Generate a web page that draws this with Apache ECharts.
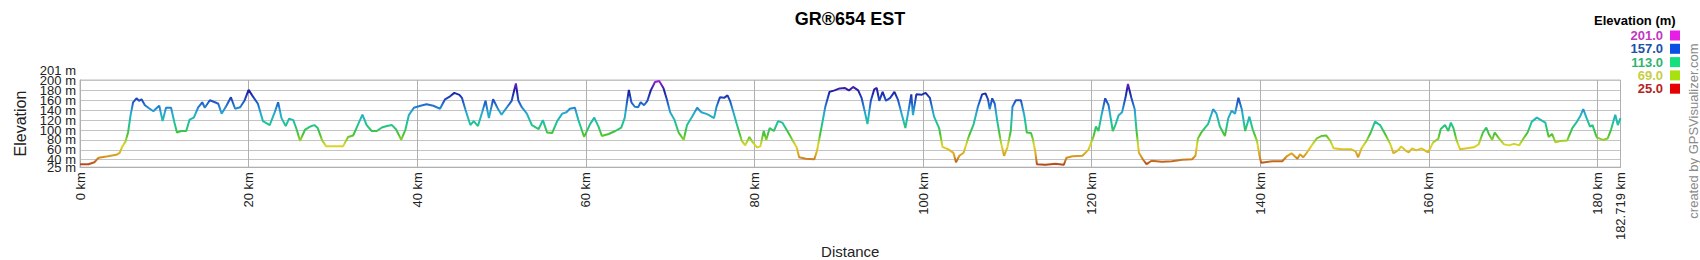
<!DOCTYPE html>
<html>
<head>
<meta charset="utf-8">
<script src="https://cdn.jsdelivr.net/npm/echarts@6/dist/echarts.min.js"></script>
<style>
html,body{margin:0;padding:0;background:#fff;}
#chart{width:1700px;height:260px;}
</style>
</head>
<body>
<div id="chart"></div>
<script>
// ---- data ----
const titleText = 'GR®654 EST';
const distKm = [
0,1.0,1.7,2.2,3.3,4.3,4.7,5.0,5.4,5.7,6.0,6.3,6.7,7.0,7.3,7.7,8.1,8.7,9.0,9.4,9.8,10.2,10.8,11.2,11.5,12.0,12.6,13.0,13.5,14.0,14.5,14.8,15.4,16.0,16.4,16.8,17.4,17.9,18.4,19.0,19.5,20.0,20.5,21.1,21.7,22.5,23.1,23.5,23.9,24.4,24.8,25.3,25.7,26.1,26.7,27.3,27.8,28.2,28.7,29.2,30.2,
31.2,31.8,32.4,33.0,33.5,34.0,34.6,35.2,35.8,36.4,37.0,37.5,38.1,38.6,39.0,39.6,40.4,41.1,41.9,42.7,43.3,43.9,44.4,45.0,45.3,45.7,46.3,46.7,47.2,47.7,48.1,48.5,49.0,49.6,50.0,50.6,51.2,51.7,52.0,52.4,53.0,53.6,54.4,54.9,55.4,56.0,56.6,57.2,57.7,58.1,58.7,59.1,59.8,60.5,61.0,
61.5,61.9,62.7,63.5,64.2,64.6,64.9,65.1,65.4,65.8,66.2,66.5,66.9,67.3,67.7,68.2,68.7,69.2,69.6,70.0,70.5,71.0,71.6,72.0,72.6,73.2,73.7,74.2,74.5,75.2,75.5,75.9,76.4,76.8,77.1,77.5,77.9,78.5,78.9,79.4,79.8,80.3,80.7,81.1,81.4,81.8,82.3,82.8,83.3,83.9,84.5,85.0,85.3,86.1,87.1,87.4,87.9,88.4,88.9,89.5,90.1,90.7,91.2,91.7,
92.3,92.7,93.1,93.4,93.8,94.2,94.5,94.8,95.2,95.6,96.1,96.6,97.0,97.5,97.9,98.3,98.6,98.8,99.2,99.8,100.3,100.8,101.3,101.9,102.3,103.0,103.6,103.9,104.3,104.8,105.4,106.0,106.5,107.0,107.4,107.7,107.9,108.2,108.5,108.8,109.2,109.6,110.0,110.4,110.6,111.0,111.6,112.0,112.3,112.8,113.0,113.3,113.5,114.5,115.7,116.7,117.0,117.7,118.9,119.6,120.2,120.5,120.8,121.2,121.6,122.0,122.5,
122.8,123.2,123.6,124.0,124.3,124.7,125.1,125.3,125.6,126.1,126.5,127.1,128.3,129.5,130.7,131.9,132.3,132.6,133.0,133.4,133.8,134.4,134.8,135.2,135.8,136.2,136.6,137.0,137.4,137.8,138.2,138.7,139.1,139.6,139.9,140.1,141.4,142.6,143.2,143.7,144.4,144.7,145.1,145.5,146.1,146.7,147.3,147.8,148.3,148.7,149.7,150.8,151.3,151.6,152.0,152.6,153.1,153.6,
154.2,154.8,155.4,155.8,156.4,156.7,157.2,157.6,158.0,158.5,159.1,159.9,160.5,161.1,161.4,161.9,162.3,162.6,162.9,163.3,163.7,164.5,165.3,165.9,166.4,166.8,167.1,167.5,167.8,168.3,168.9,169.5,170.1,170.7,171.1,171.7,172.2,172.8,173.2,173.8,174.2,174.6,175.0,175.6,176.4,177.0,177.6,178.0,178.3,178.7,179.1,179.4,179.9,180.6,181.2,181.6,182.1,182.4,182.719
];
const elevM = [
31,31,35,44,47,50,54,66,77,95,130,156,164,159,162,150,145,138,143,149,118,145,145,115,95,98,98,121,125,145,156,145,160,156,153,133,150,166,143,146,159,181,168,153,118,110,136,156,124,108,123,120,101,78,101,107,110,104,80,67,67,
67,86,89,112,131,110,98,98,105,108,110,101,80,101,130,145,149,152,149,143,162,168,175,171,165,142,110,118,108,136,159,124,162,142,131,145,159,194,159,146,133,110,102,120,95,94,118,133,136,143,145,121,86,112,125,
107,88,92,98,105,124,159,181,156,147,146,156,150,159,180,197,199,185,162,136,121,95,80,110,127,145,136,133,131,124,147,166,165,170,159,136,112,78,69,86,75,65,67,98,80,104,98,118,115,98,80,65,45,42,41,57,101,147,177,180,184,185,180,187,
180,165,136,112,159,182,185,159,177,159,165,177,162,130,104,142,172,130,172,171,175,165,127,104,66,61,54,35,48,54,86,112,147,172,174,162,142,164,153,118,78,48,65,98,147,160,160,130,95,94,83,57,31,30,32,30,44,47,48,60,86,107,98,133,164,150,98,
110,130,136,165,193,165,142,101,54,40,31,38,36,37,40,41,48,83,95,104,112,142,133,107,88,124,139,133,165,142,98,127,101,78,48,34,37,37,48,53,42,51,45,54,69,83,88,89,78,63,61,61,57,45,63,78,95,117,
110,92,72,53,60,67,59,55,63,59,63,55,75,82,102,110,98,115,104,78,61,63,65,71,95,105,92,80,95,83,71,69,72,69,80,95,117,125,121,115,86,92,75,78,79,104,118,130,142,124,107,110,85,80,83,101,131,110,124
];
const xTicks = [0, 20, 40, 60, 80, 100, 120, 140, 160, 180];
const xMax = 182.719;
const yMin = 25, yMax = 201;
const yTicks = [25, 40, 60, 80, 100, 120, 140, 160, 180, 200, 201];
// tick labels split into groups so ECharts does not drop any of the crowded labels
const yLabelGroups = [[40, 80, 120, 160, 200], [60, 100, 140, 180], [25, 201]];
const legendTitle = 'Elevation (m)';
const legendValues = [201.0, 157.0, 113.0, 69.0, 25.0];
const legendTextColors = ['#c238c2', '#2050a8', '#2fb372', '#c6cf45', '#b52222'];
const legendSwatchColors = ['#e61ee6', '#0a50e6', '#14e07e', '#a8e010', '#e60000'];
const gradientColors = ['#ac3018', '#d89a22', '#dcd828', '#48c430', '#1ec49a', '#26a8d4', '#2058c8', '#1c1ca2', '#a424d4'];
const credit = 'created by GPSVisualizer.com';

// ---- chart ----
const FONT = 'Arial, "Liberation Sans", sans-serif';
const chart = echarts.init(document.getElementById('chart'), null, {renderer: 'svg'});
const seriesData = distKm.map((d, i) => [d, elevM[i]]);

const graphics = [];
graphics.push({type: 'text', left: 1594, top: 14,
  style: {text: legendTitle, font: 'bold 13px ' + FONT, fill: '#000'}});
legendValues.forEach((v, i) => {
  const cy = 35.5 + i * 13.3;
  graphics.push({type: 'text', x: 1663, y: cy,
    style: {text: v.toFixed(1), font: 'bold 13px ' + FONT, fill: legendTextColors[i], align: 'right', verticalAlign: 'middle'}});
  graphics.push({type: 'rect', shape: {x: 1670, y: cy - 5, width: 10, height: 10},
    style: {fill: legendSwatchColors[i]}});
});
graphics.push({type: 'text', x: 1693, y: 131, rotation: Math.PI / 2,
  style: {text: credit, font: '13px ' + FONT, fill: '#8a8a8a', align: 'center', verticalAlign: 'middle'}});

const yAxes = [{
  type: 'value', min: yMin, max: yMax, position: 'left',
  name: 'Elevation', nameLocation: 'middle', nameGap: 52,
  nameTextStyle: {fontFamily: FONT, fontSize: 16, color: '#222'},
  axisLine: {show: true, lineStyle: {color: '#b0b0b0'}},
  axisTick: {show: false, customValues: yTicks},
  splitLine: {show: true, lineStyle: {color: '#c4c4c4', width: 1}},
  axisLabel: {show: false}
}];
yLabelGroups.forEach(group => {
  yAxes.push({
    type: 'value', min: yMin, max: yMax, position: 'left', offset: 0,
    axisLine: {show: false},
    axisTick: {show: false, customValues: group},
    splitLine: {show: false},
    axisLabel: {
      margin: 4, fontFamily: FONT, fontSize: 13, color: '#222',
      showMinLabel: true, showMaxLabel: true,
      customValues: group,
      formatter: v => v === yMax ? '{up|' + v + ' m}' : v + ' m',
      rich: {up: {fontFamily: FONT, fontSize: 13, color: '#222', padding: [0, 0, 20, 0]}}
    }
  });
});

chart.setOption({
  animation: false,
  backgroundColor: '#fff',
  title: {text: titleText, left: 'center', top: 5,
    textStyle: {fontFamily: FONT, fontSize: 18, fontWeight: 'bold', color: '#000'}},
  grid: {left: 80, top: 80, width: 1540.5, height: 100, show: true, borderColor: '#bdbdbd', borderWidth: 1},
  xAxis: {
    type: 'value', min: 0, max: xMax, interval: 20,
    name: 'Distance', nameLocation: 'middle', nameGap: 63,
    nameTextStyle: {fontFamily: FONT, fontSize: 15, color: '#222'},
    axisLine: {show: true, lineStyle: {color: '#b0b0b0'}},
    axisTick: {show: false},
    splitLine: {show: true, lineStyle: {color: '#b0b0b0', width: 1}},
    axisLabel: {
      rotate: 90, margin: 5, fontFamily: FONT, fontSize: 13, color: '#222',
      showMinLabel: true, showMaxLabel: true,
      customValues: xTicks.concat([xMax]),
      formatter: v => (Math.abs(v - xMax) < 1e-6 ? xMax.toFixed(3) : Math.round(v)) + ' km'
    }
  },
  yAxis: yAxes,
  visualMap: {
    type: 'continuous', show: false, dimension: 1, min: yMin, max: yMax,
    inRange: {color: gradientColors}
  },
  series: [{
    type: 'line', data: seriesData, showSymbol: false, symbol: 'none', yAxisIndex: 0,
    lineStyle: {width: 2}, silent: true
  }],
  graphic: graphics
});
</script>
</body>
</html>
